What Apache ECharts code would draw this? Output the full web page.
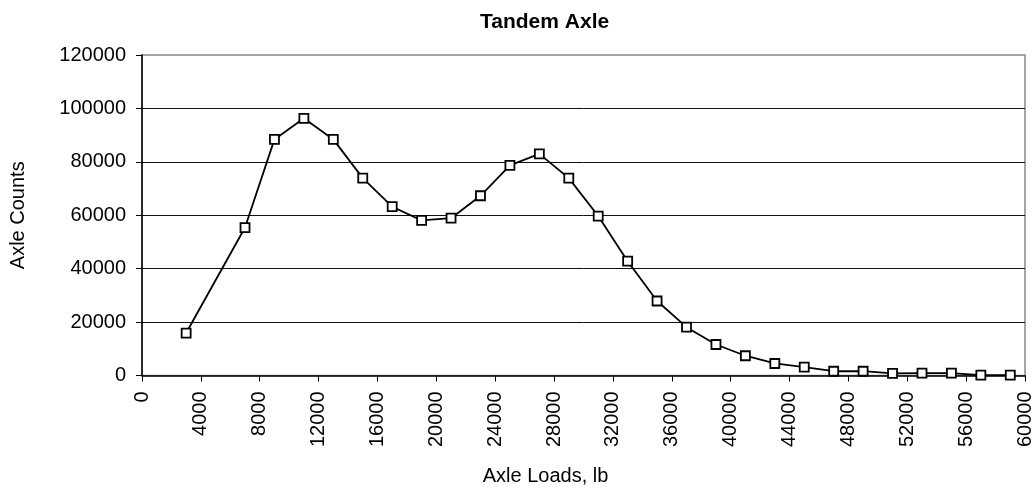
<!DOCTYPE html>
<html style="height: 100%">
   <head>
       <meta charset="utf-8">
       <title>Tandem Axle</title>
   </head>
   <body style="height: 100%; margin: 0; background: #fff">
       <div id="container" style="width: 1036px; height: 494px"></div>
       <script type="text/javascript" src="https://cdn.jsdelivr.net/npm/echarts@6/dist/echarts.min.js"></script>
       <script type="text/javascript">
// axle load bins (lb) and counts
var axleLoads = [3000, 7000, 9000, 11000, 13000, 15000, 17000, 19000, 21000, 23000,
    25000, 27000, 29000, 31000, 33000, 35000, 37000, 39000, 41000, 43000,
    45000, 47000, 49000, 51000, 53000, 55000, 57000, 59000];
var axleCounts = [15900, 55400, 88400, 96300, 88400, 73900, 63200, 58100, 58900, 67300,
    78700, 83000, 73900, 59700, 42800, 27900, 18100, 11600, 7400, 4500,
    3100, 1600, 1600, 800, 900, 900, 150, 150];
var xTicks = {min: 0, max: 60000, interval: 4000};
var yTicks = {min: 0, max: 120000, interval: 20000};

var dom = document.getElementById("container");
var myChart = echarts.init(dom);
var option = null;

var points = [];
for (var i = 0; i < axleLoads.length; i++) {
    points.push([axleLoads[i], axleCounts[i]]);
}

var font = 'Liberation Sans, Arial, sans-serif';
// plain numbers, no thousands separator
var plain = function (v) { return String(v); };

option = {
    backgroundColor: '#fff',
    animation: false,
    title: {
        text: 'Tandem Axle',
        left: 475,
        top: 7,
        textStyle: {
            color: '#000',
            fontFamily: font,
            fontWeight: 'bold',
            fontSize: 21
        }
    },
    grid: {
        left: 140,
        right: 11,
        top: 55,
        bottom: 118.5,
        show: true,
        borderColor: '#888',
        borderWidth: 1.5,
        containLabel: false
    },
    xAxis: {
        type: 'value',
        min: xTicks.min,
        max: xTicks.max,
        interval: xTicks.interval,
        name: 'Axle Loads, lb',
        nameLocation: 'middle',
        nameGap: 91,
        nameTextStyle: {
            color: '#000',
            fontFamily: font,
            fontSize: 20,
            padding: [0, 76, 0, 0]
        },
        axisLine: {show: true, onZero: false, lineStyle: {color: '#000', width: 1.5}},
        axisTick: {show: true, inside: false, length: 6, lineStyle: {color: '#000'}},
        axisLabel: {
            rotate: 90,
            margin: 16,
            color: '#000',
            fontFamily: font,
            fontSize: 20,
            formatter: plain,
            showMaxLabel: true,
            showMinLabel: true
        },
        splitLine: {show: false}
    },
    yAxis: {
        type: 'value',
        min: yTicks.min,
        max: yTicks.max,
        interval: yTicks.interval,
        name: 'Axle Counts',
        nameLocation: 'middle',
        nameGap: 114,
        nameTextStyle: {
            color: '#000',
            fontFamily: font,
            fontSize: 20
        },
        axisLine: {show: true, lineStyle: {color: '#000', width: 1.5}},
        axisTick: {show: true, inside: false, length: 6, lineStyle: {color: '#000'}},
        axisLabel: {
            margin: 16,
            color: '#000',
            fontFamily: font,
            fontSize: 20,
            formatter: plain
        },
        splitLine: {
            show: true,
            showMinLine: false,
            showMaxLine: false,
            lineStyle: {color: '#111', width: 1}
        }
    },
    series: [
        {
            name: 'Tandem Axle',
            type: 'line',
            data: points,
            symbol: 'rect',
            symbolSize: 9,
            lineStyle: {color: '#000', width: 1.8},
            itemStyle: {color: '#fff', borderColor: '#000', borderWidth: 1.8}
        }
    ]
};
if (option && typeof option === "object") {
    myChart.setOption(option, true);
}
       </script>
   </body>
</html>
